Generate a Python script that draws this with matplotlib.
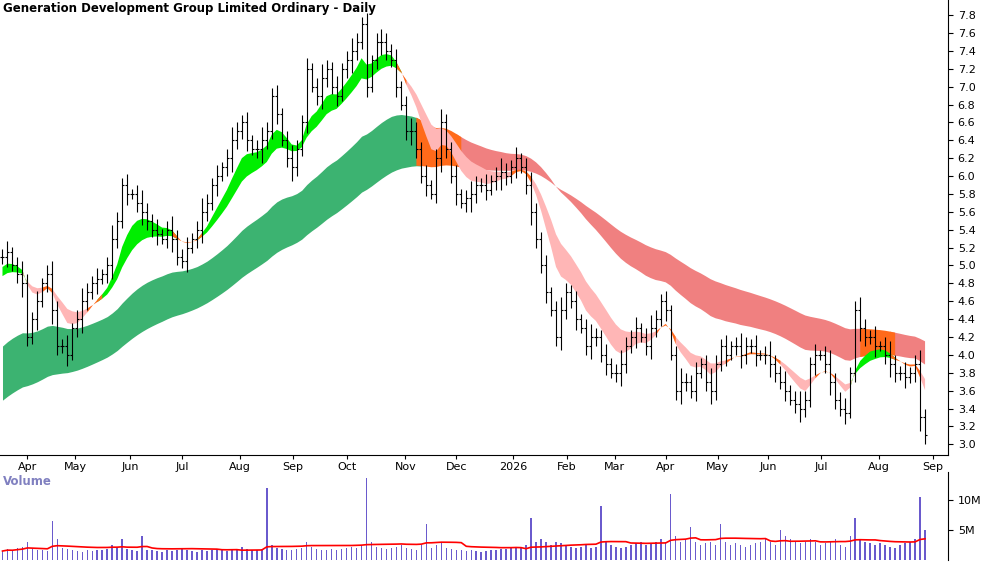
import numpy as np, pandas as pd
import matplotlib
matplotlib.use("Agg")
import matplotlib.pyplot as plt

closes = [5.1,5.15,5.0,4.9,4.8,4.2,4.4,4.6,4.8,4.9,
4.5,4.1,4.1,4.0,4.3,4.4,4.6,4.7,4.8,4.85,
4.9,5.0,5.3,5.5,5.9,5.8,5.8,5.7,5.6,5.5,
5.4,5.35,5.3,5.4,5.3,5.1,5.05,5.2,5.3,5.4,
5.6,5.7,5.9,6.0,6.1,6.2,6.4,6.5,6.6,6.4,
6.3,6.3,6.4,6.5,6.9,6.7,6.4,6.2,6.1,6.3,
6.6,7.2,7.0,6.9,7.1,7.2,7.0,6.9,7.2,7.3,
7.4,7.5,7.7,7.0,7.3,7.5,7.5,7.4,7.3,7.0,
6.8,6.5,6.5,6.3,6.0,5.9,5.8,6.2,6.6,6.3,
6.0,5.8,5.7,5.75,5.8,5.9,5.9,5.85,5.95,6.0,
6.05,6.0,6.1,6.2,6.1,5.9,5.6,5.3,5.0,4.7,
4.5,4.2,4.5,4.7,4.6,4.4,4.3,4.1,4.2,4.2,
4.0,3.9,3.8,3.8,3.9,4.1,4.2,4.3,4.2,4.1,
4.3,4.4,4.6,4.5,4.0,3.6,3.7,3.7,3.6,3.8,
3.9,3.7,3.6,3.9,4.1,4.0,4.1,4.1,4.0,4.1,
4.1,4.0,4.0,4.0,3.9,3.8,3.7,3.6,3.5,3.45,
3.4,3.5,3.9,4.0,4.0,3.9,3.7,3.5,3.4,3.35,
3.8,4.5,4.3,4.2,4.2,4.1,4.1,4.0,3.9,3.8,
3.8,3.75,3.8,3.9,3.3,3.1]
wicks = [0.08,0.12,0.06,0.1,0.15,0.1]
volume_m = [1.5,1.8,1.6,2.0,2.2,3.0,1.8,1.6,1.7,1.5,
6.5,3.5,2.0,1.8,1.6,1.5,1.4,1.6,1.5,1.7,
1.6,1.8,2.5,2.0,3.5,1.8,1.6,1.5,4.0,1.7,
1.6,1.5,1.4,1.6,1.5,1.7,1.8,1.6,1.5,1.4,
1.6,1.5,1.7,1.8,1.6,1.5,1.7,1.9,2.2,1.8,
1.7,1.6,1.8,12.0,2.5,2.0,1.8,1.6,1.7,1.8,
2.0,3.0,2.2,1.8,1.6,1.7,1.8,1.6,1.9,2.0,
2.1,2.0,2.5,13.7,3.0,2.2,2.0,1.8,2.0,2.2,
2.5,2.0,1.8,1.7,2.5,6.0,2.0,2.5,3.0,2.0,
1.8,1.7,1.6,1.5,1.6,1.5,1.4,1.5,1.6,1.7,
1.8,1.9,2.0,2.2,2.0,2.5,7.0,3.0,3.5,3.0,
2.5,3.0,2.8,2.5,2.2,2.0,2.2,2.5,2.0,2.2,
9.0,3.0,2.5,2.2,2.0,2.2,2.5,2.8,3.0,2.5,
2.8,3.0,3.5,3.0,11.0,4.0,3.0,3.5,5.5,3.0,
2.5,2.8,3.0,2.5,6.0,3.0,2.5,2.8,2.5,2.2,
2.5,2.8,3.0,3.5,3.0,2.5,5.0,4.0,3.5,3.0,
2.8,3.0,3.5,3.0,2.5,2.8,3.0,3.5,2.5,2.2,
4.0,7.0,3.5,3.0,2.8,2.5,2.8,2.5,2.2,2.0,
2.5,2.8,3.0,3.5,10.5,5.0]
month_labels = ["Apr","May","Jun","Jul","Aug","Sep","Oct","Nov","Dec","2026","Feb","Mar","Apr","May","Jun","Jul","Aug","Sep"]
month_pos = [5,14.6,25.6,36,47.6,58.2,69,80.8,91,102.4,113.2,122.8,133,143.4,153.6,164.2,175.8,186.6]

c = pd.Series(closes)
n = len(c)
x = np.arange(n)
o = c.shift(1).fillna(c.iloc[0]).values
w = np.array([wicks[i % len(wicks)] for i in range(n)])
hi = np.maximum(o, c.values) + w
lo = np.minimum(o, c.values) - w

def ema(span, seed):
    s = pd.concat([pd.Series([seed]*span*3), c], ignore_index=True)
    e = s.ewm(span=span, adjust=False).mean()
    return e.iloc[-n:].values

f1, f2 = ema(8, 4.95), ema(15, 4.85)
l1, l2 = ema(42, 4.05), ema(75, 3.45)

fig = plt.figure(figsize=(10, 5.62), dpi=100)
ax = fig.add_axes([0, 1-455/562, 0.948, 455/562])
av = fig.add_axes([0, 2/562, 0.948, 88/562], sharex=ax)

def fill(a, b, mask, col, z):
    ax.fill_between(x, a, b, where=mask, color=col, lw=0, interpolate=False, zorder=z)

def grow(m):
    return m | np.r_[m[1:], False] | np.r_[False, m[:-1]]

up_l = f1 > np.maximum(l1, l2)
dn_l = f1 < np.minimum(l1, l2)
mid_l = ~(up_l | dn_l)
fill(l1, l2, grow(up_l), "#3cb371", 1)
fill(l1, l2, grow(dn_l), "#f08080", 1)
fill(l1, l2, grow(mid_l), "#ff6a1a", 1)

d = f1 - f2
thr = 0.03
fill(f1, f2, grow(d > thr), "#00ee00", 2)
fill(f1, f2, grow(d < -thr), "#ffb6b6", 2)
fill(f1, f2, grow(np.abs(d) <= thr), "#ff6a1a", 2)

ax.vlines(x, lo, hi, color="black", lw=0.8, zorder=3)
ax.hlines(o, x-0.4, x, color="black", lw=0.8, zorder=3)
ax.hlines(c.values, x, x+0.4, color="black", lw=0.8, zorder=3)

ax.set_xlim(-0.5, 189.6)
ax.set_ylim(2.88, 7.97)
ax.yaxis.tick_right()
ax.set_yticks(np.round(np.arange(3.0, 7.81, 0.2), 1))
ax.set_yticklabels([f"{v:.1f}" for v in np.arange(3.0, 7.81, 0.2)], fontsize=8)
ax.set_xticks(month_pos)
ax.set_xticklabels(month_labels, fontsize=8)
ax.tick_params(axis="x", length=3, pad=2)
for s in ["top", "left"]:
    ax.spines[s].set_visible(False)
ax.text(0.003, 0.995, "Generation Development Group Limited Ordinary - Daily", transform=ax.transAxes,
        fontsize=8.5, fontweight="bold", va="top", ha="left")

vol = pd.Series(volume_m)
av.bar(x, vol.values, width=0.3, color="#6a5acd")
av.plot(x, vol.rolling(20, min_periods=1).mean().values, color="red", lw=1.2)
av.set_ylim(0, 14.7)
av.yaxis.tick_right()
av.set_yticks([5, 10])
av.set_yticklabels(["5M", "10M"], fontsize=8)
av.tick_params(axis="x", bottom=False, labelbottom=False)
for s in ["top", "left", "bottom"]:
    av.spines[s].set_visible(False)
av.text(0.003, 0.97, "Volume", transform=av.transAxes, fontsize=8.5, fontweight="bold",
        color="#8080c0", va="top")
fig.savefig("out.png", dpi=100)
